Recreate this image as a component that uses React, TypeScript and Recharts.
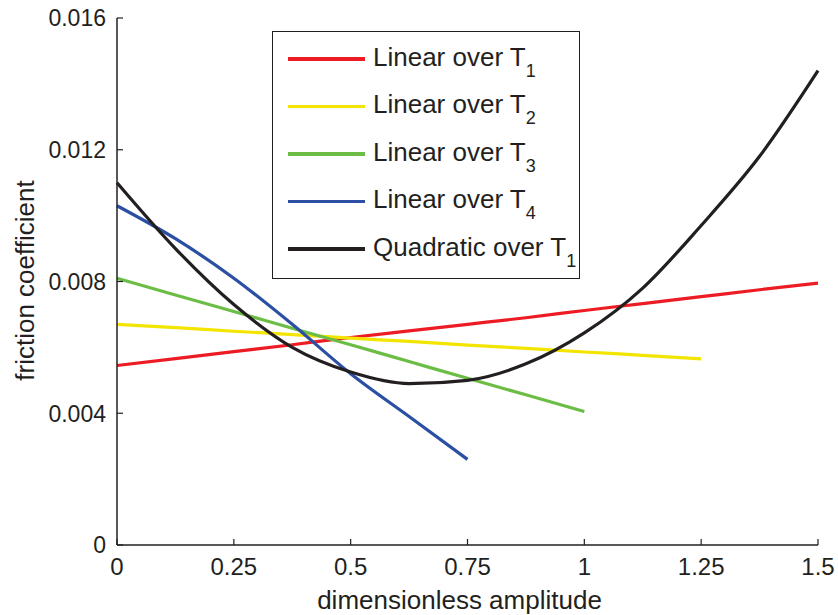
import { CartesianGrid, Legend, Line, LineChart, XAxis, YAxis } from "recharts";

const AXIS = "#231f20";
const FONT = '"Liberation Sans", Arial, Helvetica, sans-serif';

// amplitude grid shared by all series (each series stops where its data ends)
const AMPLITUDE = [0, 0.125, 0.25, 0.375, 0.5, 0.625, 0.75, 0.875, 1, 1.125, 1.25, 1.375, 1.5];

const LINEAR_T1 = [0.00545, 0.00566, 0.00587, 0.00608, 0.0063, 0.0065, 0.0067, 0.0069, 0.00712, 0.00733, 0.00754, 0.00775, 0.00795];
const LINEAR_T2 = [0.0067, 0.0066, 0.00649, 0.00639, 0.00628, 0.00618, 0.00607, 0.00597, 0.00586, 0.00576, 0.00565];
const LINEAR_T3 = [0.0081, 0.00759, 0.00709, 0.00658, 0.00608, 0.00557, 0.00506, 0.00456, 0.00405];
const LINEAR_T4 = [0.0103, 0.0093, 0.0081, 0.0067, 0.0052, 0.0039, 0.0026];
const QUADRATIC_T1 = [0.011, 0.009, 0.0073, 0.006, 0.00525, 0.0049, 0.005, 0.0055, 0.00644, 0.0078, 0.0097, 0.0118, 0.0144];

const X_TICKS = [0, 0.25, 0.5, 0.75, 1, 1.25, 1.5];
const Y_TICKS = [0, 0.004, 0.008, 0.012, 0.016];

const SERIES = [
  { key: "t1", name: "Linear over T", sub: "1", color: "#ed1c24", values: LINEAR_T1 },
  { key: "t2", name: "Linear over T", sub: "2", color: "#f4e500", values: LINEAR_T2 },
  { key: "t3", name: "Linear over T", sub: "3", color: "#6cbd45", values: LINEAR_T3 },
  { key: "t4", name: "Linear over T", sub: "4", color: "#2b4fa2", values: LINEAR_T4 },
  { key: "q1", name: "Quadratic over T", sub: "1", color: "#231f20", values: QUADRATIC_T1 },
];

const toPoints = (values: number[]) => values.map((y, i) => ({ x: AMPLITUDE[i], y }));

const TICK_LEN = 6;

function BottomTick({ x, y, payload }: any) {
  return (
    <g>
      <line x1={x} x2={x} y1={y} y2={y - TICK_LEN} stroke={AXIS} strokeWidth={1.2} />
      <text x={x} y={y + 30} textAnchor="middle" fontSize={24} fill={AXIS} fontFamily={FONT}>
        {payload.value}
      </text>
    </g>
  );
}

function TopTick({ x, y }: any) {
  return <line x1={x} x2={x} y1={y} y2={y + TICK_LEN} stroke={AXIS} strokeWidth={1.2} />;
}

function LeftTick({ x, y, payload }: any) {
  return (
    <g>
      <line x1={x} x2={x + TICK_LEN} y1={y} y2={y} stroke={AXIS} strokeWidth={1.2} />
      <text x={x - 11} y={y} dy="0.36em" textAnchor="end" fontSize={23} fill={AXIS} fontFamily={FONT}>
        {payload.value}
      </text>
    </g>
  );
}

function RightTick({ x, y }: any) {
  return <line x1={x} x2={x - TICK_LEN} y1={y} y2={y} stroke={AXIS} strokeWidth={1.2} />;
}

function LegendBox() {
  return (
    <div
      style={{
        boxSizing: "border-box",
        width: "100%",
        height: "100%",
        border: `1.5px solid ${AXIS}`,
        background: "#fff",
        paddingTop: 3,
        fontFamily: FONT,
        color: AXIS,
      }}
    >
      {SERIES.map((s) => (
        <div key={s.key} style={{ height: 47.5, display: "flex", alignItems: "center" }}>
          <div style={{ marginLeft: 15, width: 77, height: 3.5, background: s.color, flexShrink: 0 }} />
          <span
            style={{
              marginLeft: 8,
              fontSize: 26,
              lineHeight: 1,
              whiteSpace: "nowrap",
              position: "relative",
              top: -2,
              flexShrink: 0,
            }}
          >
            {s.name}
            <span style={{ fontSize: 18, position: "relative", top: 11 }}>{s.sub}</span>
          </span>
        </div>
      ))}
    </div>
  );
}

export default function App() {
  return (
    <div style={{ position: "absolute", left: 0, top: 0, width: 838, height: 615, background: "#fff" }}>
      <LineChart width={838} height={615} margin={{ top: 18, right: 20, bottom: 0, left: 0 }}>
        <CartesianGrid stroke="none" />
        <XAxis
          dataKey="x"
          type="number"
          domain={[0, 1.5]}
          ticks={X_TICKS}
          height={70}
          tickSize={0}
          tickMargin={0}
          tickLine={false}
          axisLine={{ stroke: AXIS, strokeWidth: 1.5 }}
          tick={<BottomTick />}
          label={{
            content: ({ viewBox }: any) => (
              <text
                x={viewBox.x + viewBox.width / 2 - 8}
                y={609}
                textAnchor="middle"
                fontSize={26}
                fill={AXIS}
                fontFamily={FONT}
              >
                dimensionless amplitude
              </text>
            ),
          }}
        />
        <XAxis
          xAxisId="top"
          orientation="top"
          dataKey="x"
          type="number"
          domain={[0, 1.5]}
          ticks={X_TICKS}
          height={0}
          tickSize={0}
          tickMargin={0}
          tickLine={false}
          axisLine={{ stroke: AXIS, strokeWidth: 1.5 }}
          tick={<TopTick />}
        />
        <YAxis
          type="number"
          domain={[0, 0.016]}
          ticks={Y_TICKS}
          width={117}
          tickSize={0}
          tickMargin={0}
          tickLine={false}
          axisLine={{ stroke: AXIS, strokeWidth: 1.5 }}
          tick={<LeftTick />}
          label={{
            content: ({ viewBox }: any) => {
              const cy = viewBox.y + viewBox.height / 2 - 1;
              return (
                <text
                  x={25}
                  y={cy}
                  transform={`rotate(-90 25 ${cy})`}
                  dy="0.35em"
                  textAnchor="middle"
                  fontSize={26}
                  fill={AXIS}
                  fontFamily={FONT}
                >
                  friction coefficient
                </text>
              );
            },
          }}
        />
        <YAxis
          yAxisId="right"
          orientation="right"
          type="number"
          domain={[0, 0.016]}
          ticks={Y_TICKS}
          width={0}
          tickSize={0}
          tickMargin={0}
          tickLine={false}
          axisLine={{ stroke: AXIS, strokeWidth: 1.5 }}
          tick={<RightTick />}
        />
        <Legend
          layout="vertical"
          align="center"
          verticalAlign="middle"
          wrapperStyle={{ left: 272, top: 31, width: 308, height: 248 }}
          content={() => <LegendBox />}
        />
        {SERIES.map((s) => (
          <Line
            key={s.key}
            data={toPoints(s.values)}
            dataKey="y"
            name={s.name + s.sub}
            type="monotone"
            stroke={s.color}
            strokeWidth={3.2}
            dot={false}
            isAnimationActive={false}
          />
        ))}
      </LineChart>
    </div>
  );
}
